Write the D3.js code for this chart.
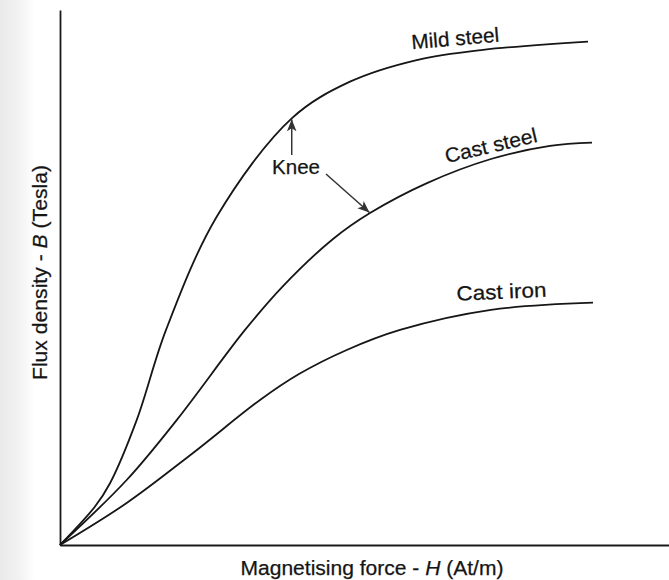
<!DOCTYPE html>
<html>
<head>
<meta charset="utf-8">
<script src="https://cdn.jsdelivr.net/npm/d3@7"></script>
<style>
  html, body { margin: 0; padding: 0; background: #fff; }
  svg { display: block; }
  text { font-family: "Liberation Sans", Arial, Helvetica, sans-serif; fill: #151515; stroke: #151515; stroke-width: 0.25; }
</style>
</head>
<body>
<svg id="chart" width="669" height="580"></svg>
<script>
// ---- Data (arbitrary units: H in % of axis, B in tesla-like units) ----
const mildSteelH = [0, 5.75, 8.21, 12.59, 17.41, 25.73, 38.05, 47.62, 58.57, 69.46, 86.70];
const mildSteelB = [0, 0.144, 0.231, 0.467, 0.804, 1.227, 1.595, 1.732, 1.813, 1.851, 1.882];

const castSteelH = [0, 10.95, 19.16, 30.38, 36.62, 44.83, 50.90, 60.26, 70.77, 80.46, 87.36];
const castSteelB = [0, 0.243, 0.467, 0.804, 0.968, 1.144, 1.241, 1.353, 1.443, 1.492, 1.504];

const castIronH = [0, 10.95, 21.84, 32.84, 39.24, 47.08, 55.83, 70.77, 87.52];
const castIronB = [0, 0.157, 0.344, 0.542, 0.639, 0.729, 0.804, 0.879, 0.906];

const seriesNames = ["Mild steel", "Cast steel", "Cast iron"];
const kneeH = [38.05, 50.90];   // knee on mild steel, knee on cast steel
const kneeB = [1.595, 1.241];
const xTitle = "Magnetising force - ";
const xTitleVar = "H";
const xTitleUnit = " (At/m)";
const yTitle = "Flux density - ";
const yTitleVar = "B";
const yTitleUnit = " (Tesla)";

// ---- Layout ----
const svg = d3.select("#chart");
const W = 669, H = 580;
const x = d3.scaleLinear().domain([0, 100]).range([60, 669]);
const y = d3.scaleLinear().domain([0, 2]).range([545, 10]);

// scanned-page left shading
const defs = svg.append("defs");
const grad = defs.append("linearGradient").attr("id", "edge").attr("x1", 0).attr("x2", 1);
grad.append("stop").attr("offset", "0%").attr("stop-color", "#e9e9e9");
grad.append("stop").attr("offset", "60%").attr("stop-color", "#f3f3f3");
grad.append("stop").attr("offset", "100%").attr("stop-color", "#ffffff");
svg.append("rect").attr("x", 0).attr("y", 0).attr("width", 34).attr("height", H).attr("fill", "url(#edge)");

// arrow marker
defs.append("marker").attr("id", "arrow")
  .attr("viewBox", "0 0 10 10").attr("refX", 10).attr("refY", 5)
  .attr("markerWidth", 12).attr("markerHeight", 12).attr("markerUnits", "userSpaceOnUse")
  .attr("orient", "auto")
  .append("path").attr("d", "M0,1 L10,5 L0,9 L2.5,5 Z").attr("fill", "#333");

// axes (no ticks)
svg.append("g").attr("transform", `translate(0,${y(0)})`)
  .call(d3.axisBottom(x).ticks(0).tickSizeOuter(0))
  .call(g => g.select(".domain").attr("stroke", "#1a1a1a").attr("stroke-width", 1.8));
svg.append("g").attr("transform", `translate(${x(0)},0)`)
  .call(d3.axisLeft(y).ticks(0).tickSizeOuter(0))
  .call(g => g.select(".domain").attr("stroke", "#1a1a1a").attr("stroke-width", 1.8));

// curves
const line = d3.line().x(d => x(d[0])).y(d => y(d[1])).curve(d3.curveCatmullRom.alpha(0.5));
const series = [
  d3.zip(mildSteelH, mildSteelB),
  d3.zip(castSteelH, castSteelB),
  d3.zip(castIronH, castIronB)
];
svg.append("g").selectAll("path").data(series).join("path")
  .attr("d", line).attr("fill", "none").attr("stroke", "#161616").attr("stroke-width", 1.8);

// curve labels
const labelPos = [
  {cx: 455.8, cy: 45.5, a: -5, len: 88},
  {cx: 492.5, cy: 152.5, a: -13.3, len: 94},
  {cx: 501.7, cy: 298.7, a: -2.5, len: 90}
];
svg.append("g").selectAll("text").data(seriesNames).join("text")
  .attr("transform", (d, i) => `translate(${labelPos[i].cx},${labelPos[i].cy}) rotate(${labelPos[i].a})`)
  .attr("text-anchor", "middle").attr("font-size", 20.5)
  .attr("textLength", (d, i) => labelPos[i].len).attr("lengthAdjust", "spacingAndGlyphs")
  .text(d => d);

// Knee annotation
svg.append("text").attr("x", 296).attr("y", 174).attr("text-anchor", "middle")
  .attr("font-size", 20.5).attr("textLength", 48).attr("lengthAdjust", "spacingAndGlyphs").text("Knee");
svg.append("line")
  .attr("x1", x(kneeH[0])).attr("y1", 155)
  .attr("x2", x(kneeH[0])).attr("y2", y(kneeB[0]) + 1)
  .attr("stroke", "#333").attr("stroke-width", 1.5).attr("marker-end", "url(#arrow)");
svg.append("line")
  .attr("x1", 326).attr("y1", 174)
  .attr("x2", x(kneeH[1]) - 0.5).attr("y2", y(kneeB[1]) - 0.5)
  .attr("stroke", "#333").attr("stroke-width", 1.5).attr("marker-end", "url(#arrow)");

// axis titles
const xt = svg.append("text").attr("x", 372).attr("y", 575).attr("text-anchor", "middle")
  .attr("font-size", 20.5).attr("textLength", 263).attr("lengthAdjust", "spacingAndGlyphs");
xt.append("tspan").text(xTitle);
xt.append("tspan").attr("font-style", "italic").text(xTitleVar);
xt.append("tspan").text(xTitleUnit);

const yt = svg.append("text").attr("transform", "translate(47,272.5) rotate(-90)")
  .attr("text-anchor", "middle")
  .attr("font-size", 20.5).attr("textLength", 215).attr("lengthAdjust", "spacingAndGlyphs");
yt.append("tspan").text(yTitle);
yt.append("tspan").attr("font-style", "italic").text(yTitleVar);
yt.append("tspan").text(yTitleUnit);
</script>
</body>
</html>
